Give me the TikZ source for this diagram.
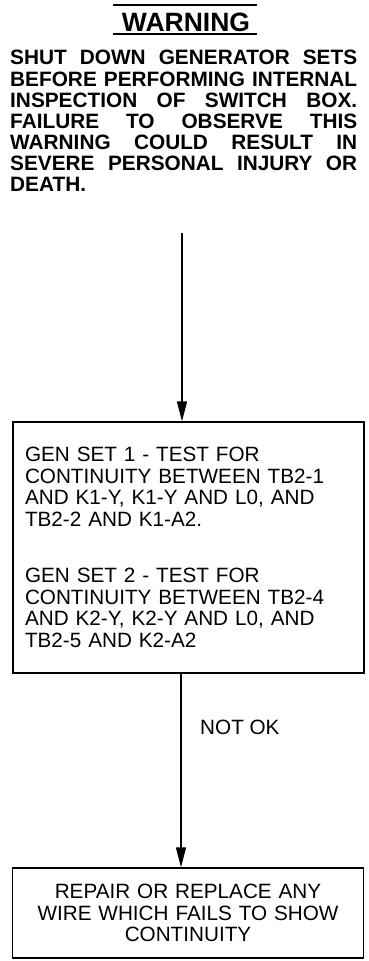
\documentclass[tikz,border=0pt]{standalone}
\usepackage{fontspec}
\setmainfont{Liberation Sans}
\usetikzlibrary{arrows.meta}

\tikzset{
  headtext/.style={inner sep=0pt, font=\fontsize{26.5}{26.5}\selectfont\bfseries},
  warntext/.style={anchor=base west, inner sep=0pt, font=\fontsize{20.8}{21}\selectfont\bfseries},
  stepbox/.style={draw, line width=1.4pt, inner xsep=12pt, inner ysep=0pt,
    text width=327pt, font=\fontsize{20.7}{21.5}\selectfont},
  flow/.style={line width=1.7pt, -{Triangle[length=20pt, width=10pt]}},
}

\begin{document}
\begin{tikzpicture}[x=1pt, y=-1pt]
  \useasboundingbox (0,0) rectangle (369,961);

  % warning heading and its rules
  \node[headtext, anchor=base] (head) at (186,31) {WARNING};
  \draw[line width=1.5pt] (113,5) -- (257,5);
  \draw[line width=1.5pt] (113,34) -- (257,34);

  % warning text, justified line by line
  \node[warntext] (w1) at (10,64)  {\makebox[347pt][s]{SHUT DOWN GENERATOR SETS}};
  \node[warntext] (w2) at (10,86)  {\makebox[347pt][s]{BEFORE PERFORMING INTERNAL}};
  \node[warntext] (w3) at (10,107) {\makebox[347pt][s]{INSPECTION OF SWITCH BOX.}};
  \node[warntext] (w4) at (10,128) {\makebox[347pt][s]{FAILURE TO OBSERVE THIS}};
  \node[warntext] (w5) at (10,149) {\makebox[347pt][s]{WARNING COULD RESULT IN}};
  \node[warntext] (w6) at (10,170) {\makebox[347pt][s]{SEVERE PERSONAL INJURY OR}};
  \node[warntext] (w7) at (10,191) {DEATH.};

  % test box
  \node[stepbox, align=left, minimum height=251pt] (test) at (188.5,547.5)
    {GEN SET 1 - TEST FOR\\
     CONTINUITY BETWEEN TB2-1\\
     AND K1-Y, K1-Y AND L0, AND\\
     TB2-2 AND K1-A2.\\[35pt]
     GEN SET 2 - TEST FOR\\
     CONTINUITY BETWEEN TB2-4\\
     AND K2-Y, K2-Y AND L0, AND\\
     TB2-5 AND K2-A2};

  % repair box
  \node[stepbox, align=center, minimum height=90pt] (repair) at (188,913)
    {REPAIR OR REPLACE ANY\\
     WIRE WHICH FAILS TO SHOW\\
     CONTINUITY};

  % connectors
  \coordinate (start) at (182,233);
  \coordinate (leg) at (181,0);
  \draw[flow] (start) -- (start |- test.north);
  \draw[flow] (test.south -| leg) -- (repair.north -| leg);
  \node[anchor=west, inner sep=0pt, font=\fontsize{20.7}{21.5}\selectfont]
    (notok) at (200,727) {NOT OK};
\end{tikzpicture}
\end{document}
